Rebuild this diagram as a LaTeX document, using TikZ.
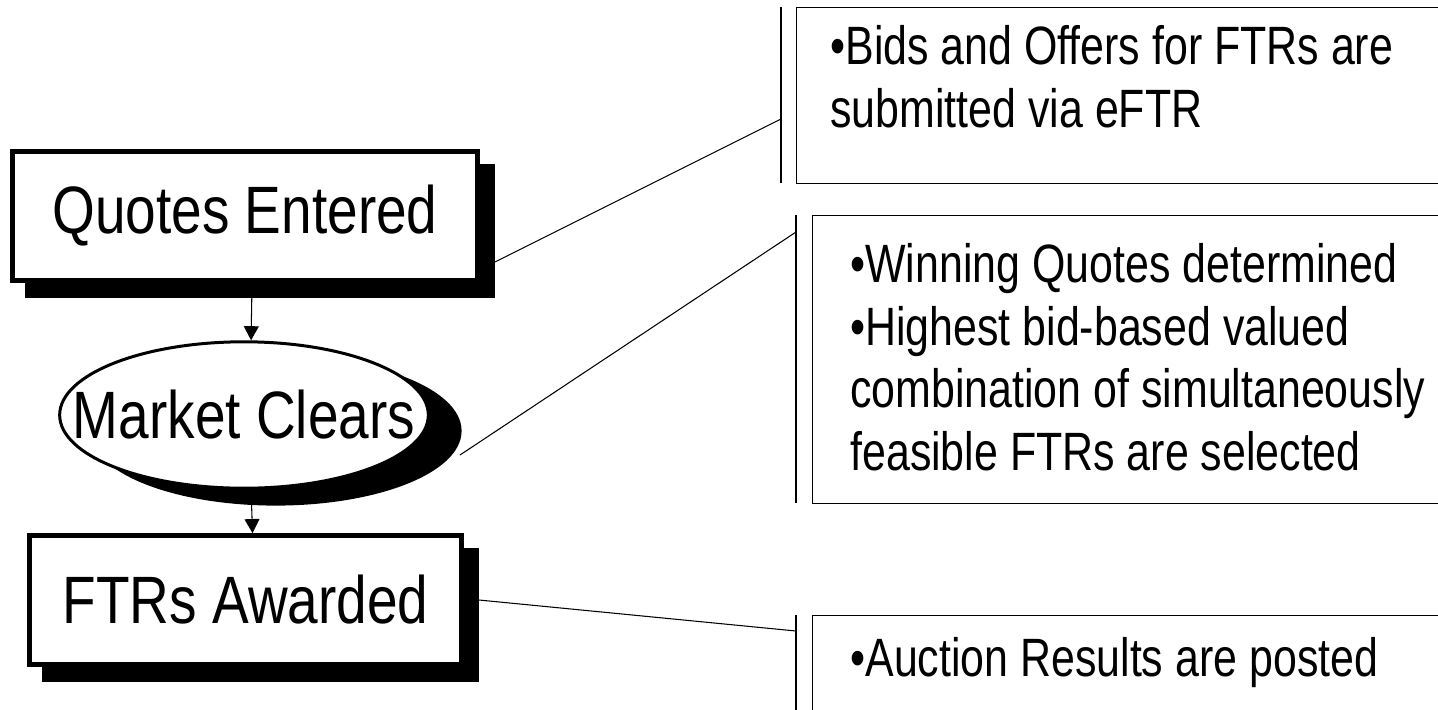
\documentclass[tikz,border=0pt]{standalone}
\usepackage{fontspec}
\setmainfont[FakeStretch=0.82]{Liberation Sans}
\newfontfamily\notefont[FakeStretch=0.795]{Liberation Sans}
\usetikzlibrary{shapes.geometric,shadows,arrows.meta}

\begin{document}
\begin{tikzpicture}[x=0.5669pt, y=-0.5669pt,
    stepbox/.style={draw, line width=2.8pt, fill=white, inner sep=0pt,
      minimum height=73pt, font=\fontsize{38}{44}\selectfont,
      drop shadow={opacity=1, fill=black, draw=black, line width=2.8pt,
        shadow xshift=8.5pt, shadow yshift=-8.5pt}},
    clearsbox/.style={ellipse, draw, line width=1.7pt, fill=white, inner sep=0pt,
      minimum width=209pt, minimum height=83pt,
      drop shadow={opacity=1, fill=black, draw=black, line width=1.7pt,
        shadow xshift=18pt, shadow yshift=-9pt}},
    notebox/.style={draw, line width=0.7pt, inner sep=0pt, anchor=north west},
    notetext/.style={inner sep=0pt, anchor=north west, align=left,
      font=\notefont\fontsize{30.6}{35.5}\selectfont},
    flow/.style={line width=0.6pt, -{Triangle[length=8pt, width=8.5pt]}},
    link/.style={line width=0.6pt}]
  \useasboundingbox (0,0) rectangle (1438,709);

  % steps of the auction
  \node[stepbox, minimum width=263.6pt] (qe) at (245,216) {Quotes Entered};
  \node[clearsbox, label={[font=\fontsize{38}{44}\selectfont]center:Market Clears}] (mc) at (244,415) {};
  \node[stepbox, minimum width=244.9pt] (fa) at (245.5,600) {FTRs Awarded};

  \draw[flow] ([xshift=4pt]qe.south) -- ([xshift=4pt]mc.north);
  \draw[flow] ([xshift=4pt]mc.south) -- ([xshift=4pt]fa.north);

  % notes
  \node[notebox, minimum width=380pt, minimum height=99.8pt] (cb1) at (796,7) {};
  \node[notebox, minimum width=370pt, minimum height=163.3pt] (cb2) at (812,215) {};
  \node[notebox, minimum width=370pt, minimum height=100pt] (cb3) at (812,615) {};

  \node[notetext] (ct1) at (830,25) {•Bids and Offers for FTRs are\\submitted via eFTR};
  \node[notetext] (ct2) at (850,243) {•Winning Quotes determined\\•Highest bid-based valued\\combination of simultaneously\\feasible FTRs are selected};
  \node[notetext] (ct3) at (850,637) {•Auction Results are posted};

  \coordinate (p1) at (781,119);
  \coordinate (p2) at (796,232);
  \coordinate (p3) at (796,631);
  \draw[link] (781,7) -- (781,183);
  \draw[link] (796,215) -- (796,503);
  \draw[link] (796,615) -- (796,720);

  \draw[link] ([shift={(15,46)}]qe.east) -- (p1);
  \draw[link] ([shift={(216,40)}]mc.center) -- (p2);
  \draw[link] ([shift={(15,0)}]fa.east) -- (p3);
\end{tikzpicture}
\end{document}
